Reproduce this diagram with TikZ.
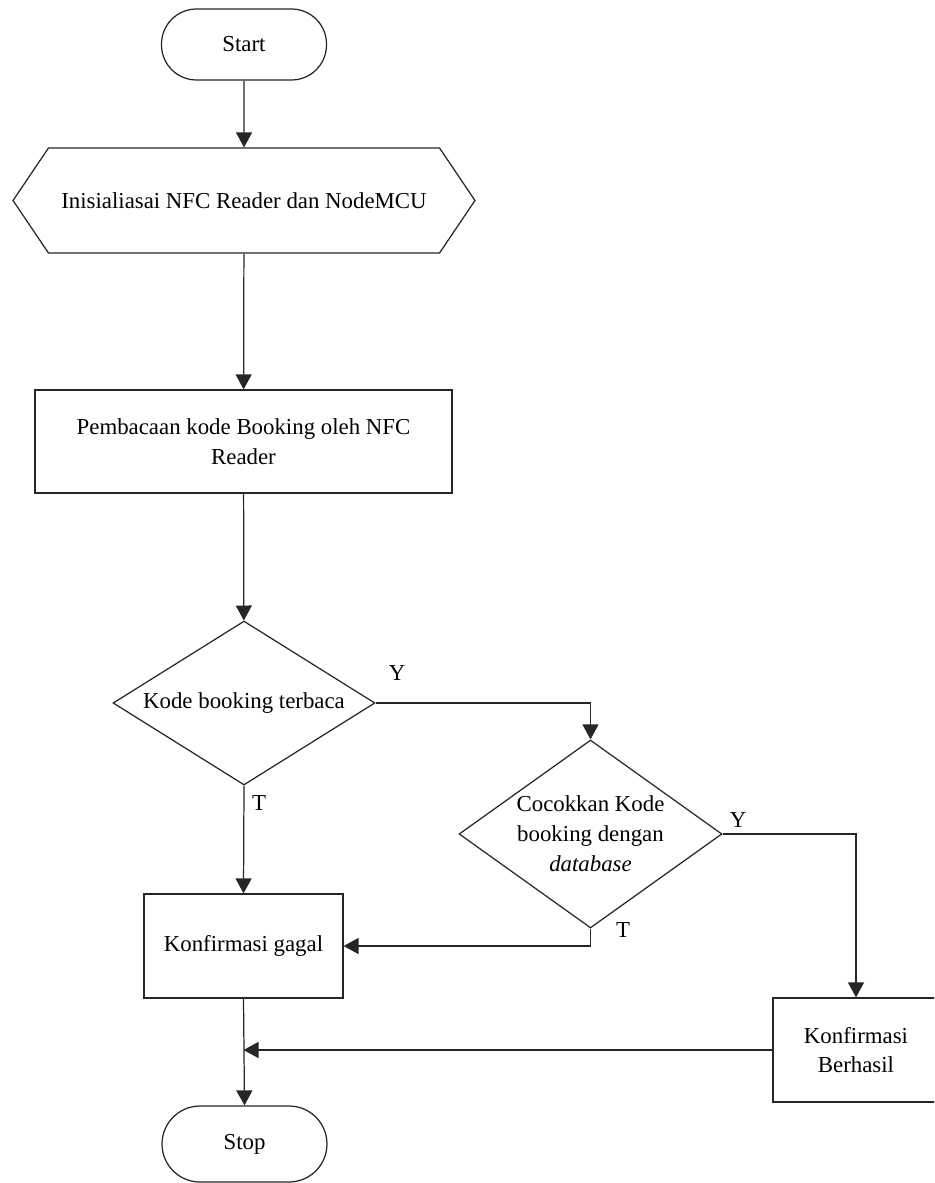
\documentclass[tikz,border=0pt]{standalone}
\usepackage{fontspec}
\setmainfont{Liberation Serif}
\usetikzlibrary{arrows.meta,shapes.geometric,shapes.symbols}
\tikzset{
  box/.style={draw=black!85, line width=0.7pt, fill=white, align=center, inner sep=2pt, font=\fontsize{13}{17}\selectfont},
  terminal/.style={box, rounded corners=0.7cm, minimum width=3.3cm},
  prep/.style={box, signal, signal to=east and west, signal pointer angle=112, minimum width=9.24cm, minimum height=2.1cm},
  decision/.style={box, diamond, inner sep=0pt},
  arrow/.style={-{Triangle[length=3mm,width=3.2mm]}, line width=0.7pt, draw=black!85},
  line/.style={line width=0.7pt, draw=black!85},
  lbl/.style={font=\fontsize{13}{15}\selectfont, inner sep=0pt}
}
\begin{document}
\begin{tikzpicture}[x=0.02cm, y=-0.02cm]
\clip (0,0) rectangle (934,1183);
\node[terminal, minimum height=1.42cm] (start) at (244,44.5) {Start};
\node[prep] (init) at (244,200.5) {Inisialiasai NFC Reader dan NodeMCU};
\node[box, minimum width=8.34cm, minimum height=2.06cm] (read) at (243.5,441.5) {Pembacaan kode Booking oleh NFC\\Reader};
\node[decision, aspect=1.6, minimum width=5.24cm, minimum height=3.28cm] (cek) at (244,703) {Kode booking terbaca};
\node[decision, aspect=1.4, minimum width=5.26cm, minimum height=3.76cm] (cocok) at (590.5,834) {Cocokkan Kode\\booking dengan\\\textit{database}};
\node[box, minimum width=3.98cm, minimum height=2.08cm] (gagal) at (243.5,946) {Konfirmasi gagal};
\node[box, minimum width=3.32cm, minimum height=2.08cm] (berhasil) at (856,1050) {Konfirmasi\\Berhasil};
\node[terminal, rounded corners=0.76cm, minimum height=1.52cm] (stop) at (244.5,1144) {Stop};
\coordinate (gabung) at (gagal.south |- berhasil.west);
\draw[arrow] (start) -- (init);
\draw[arrow] (init) -- (read);
\draw[arrow] (read) -- (cek);
\draw[arrow] (cek.east) -| (cocok.north);
\draw[arrow] (cek.south) -- (gagal.north);
\draw[arrow] (cocok.south) |- (gagal.east);
\draw[arrow] (cocok.east) -| (berhasil.north);
\draw[arrow] (gagal.south) -- (stop.north);
\draw[arrow] (berhasil.west) -- (gabung);
\node[lbl] (y1) at (397,673) {Y};
\node[lbl] (t1) at (259,803) {T};
\node[lbl] (y2) at (738,820) {Y};
\node[lbl] (t2) at (623,930) {T};
\end{tikzpicture}
\end{document}
